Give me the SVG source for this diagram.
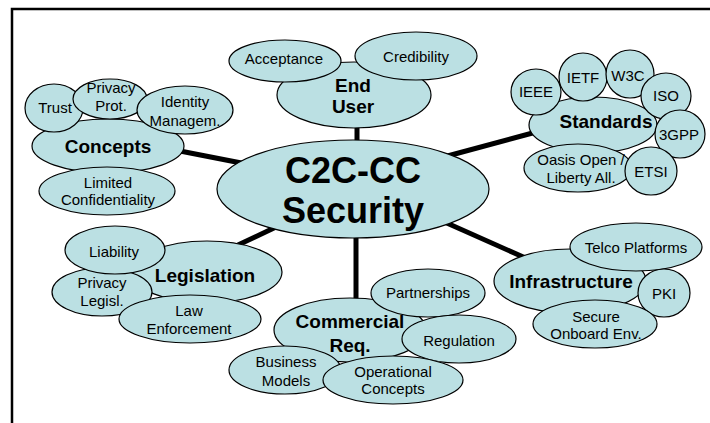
<svg xmlns="http://www.w3.org/2000/svg" width="710" height="423" viewBox="0 0 710 423">
<style>
ellipse{fill:#bbe0e3;stroke:#000;stroke-width:1.2}
text{font-family:"Liberation Sans",Arial,sans-serif;fill:#000;text-anchor:middle}
.s{font-size:15px}
.b{font-size:19px;font-weight:bold}
.c{font-size:36px;font-weight:bold}
.ln{stroke:#000;stroke-width:5;fill:none}
</style>
<rect width="710" height="423" fill="#fff"/>
<path d="M12 423V9H710" fill="none" stroke="#000" stroke-width="2.5"/>
<g id="connectors">
<line class="ln" x1="180" y1="151" x2="262" y2="167"/>
<line class="ln" x1="357" y1="120" x2="357" y2="150"/>
<line class="ln" x1="440" y1="158" x2="540" y2="131"/>
<line class="ln" x1="440" y1="220" x2="530" y2="260"/>
<line class="ln" x1="356" y1="230" x2="356" y2="305"/>
<line class="ln" x1="238" y1="245" x2="295" y2="218"/>
</g>
<g id="center">
<ellipse cx="353" cy="189" rx="136" ry="49"/>
<text class="c" x="353" y="183">C2C-CC</text>
<text class="c" x="353" y="223">Security</text>
</g>
<g id="concepts">
<ellipse cx="108" cy="146" rx="76" ry="27"/>
<text class="b" x="108" y="153">Concepts</text>
<ellipse cx="54" cy="108" rx="29" ry="24"/>
<text class="s" x="55" y="113">Trust</text>
<ellipse cx="110" cy="99" rx="37" ry="20"/>
<text class="s" x="111" y="93">Privacy</text>
<text class="s" x="111" y="111">Prot.</text>
<ellipse cx="185" cy="110" rx="48" ry="24"/>
<text class="s" x="185" y="107">Identity</text>
<text class="s" x="185" y="126">Managem.</text>
<ellipse cx="107" cy="191" rx="68" ry="24"/>
<text class="s" x="108" y="188">Limited</text>
<text class="s" x="108" y="205">Confidentiality</text>
</g>
<g id="enduser">
<ellipse cx="354" cy="95" rx="77" ry="33"/>
<text class="b" x="353" y="92">End</text>
<text class="b" x="353" y="113">User</text>
<ellipse cx="285" cy="61" rx="56" ry="21"/>
<text class="s" x="284" y="64">Acceptance</text>
<ellipse cx="416" cy="56" rx="61" ry="24"/>
<text class="s" x="416" y="62">Credibility</text>
</g>
<g id="standards">
<ellipse cx="593" cy="125" rx="64" ry="28"/>
<ellipse cx="536" cy="92" rx="25" ry="23"/>
<text class="s" x="536" y="97">IEEE</text>
<ellipse cx="583" cy="77" rx="24" ry="24"/>
<text class="s" x="583" y="83">IETF</text>
<ellipse cx="630" cy="74" rx="24" ry="24"/>
<text class="s" x="628" y="81">W3C</text>
<ellipse cx="666" cy="96" rx="25" ry="23"/>
<text class="s" x="666" y="101">ISO</text>
<text class="b" x="606" y="128">Standards</text>
<ellipse cx="680" cy="134" rx="25" ry="24"/>
<text class="s" x="679" y="140">3GPP</text>
<ellipse cx="578" cy="168" rx="54" ry="24"/>
<text class="s" x="581" y="165">Oasis Open /</text>
<text class="s" x="581" y="183">Liberty All.</text>
<ellipse cx="651" cy="171" rx="26" ry="24"/>
<text class="s" x="651" y="177">ETSI</text>
</g>
<g id="legislation">
<ellipse cx="207" cy="272" rx="75" ry="31"/>
<text class="b" x="205" y="282">Legislation</text>
<ellipse cx="102" cy="292" rx="50" ry="24"/>
<text class="s" x="102" y="288">Privacy</text>
<text class="s" x="102" y="306">Legisl.</text>
<ellipse cx="115" cy="250" rx="50" ry="24"/>
<text class="s" x="114" y="257">Liability</text>
<ellipse cx="190" cy="319" rx="71" ry="24"/>
<text class="s" x="189" y="316">Law</text>
<text class="s" x="189" y="334">Enforcement</text>
</g>
<g id="commercial">
<ellipse cx="350" cy="330" rx="76" ry="32"/>
<ellipse cx="428" cy="293" rx="57" ry="24"/>
<text class="s" x="428" y="298">Partnerships</text>
<text class="b" x="350" y="328">Commercial</text>
<text class="b" x="350" y="352">Req.</text>
<ellipse cx="459" cy="339" rx="57" ry="24"/>
<text class="s" x="459" y="346">Regulation</text>
<ellipse cx="285" cy="370" rx="56" ry="24"/>
<text class="s" x="286" y="367">Business</text>
<text class="s" x="286" y="386">Models</text>
<ellipse cx="393" cy="380" rx="70" ry="24"/>
<text class="s" x="393" y="377">Operational</text>
<text class="s" x="393" y="394">Concepts</text>
</g>
<g id="infrastructure">
<ellipse cx="570" cy="281" rx="76" ry="32"/>
<ellipse cx="636" cy="247" rx="66" ry="24"/>
<text class="s" x="636" y="253">Telco Platforms</text>
<text class="b" x="571" y="288">Infrastructure</text>
<ellipse cx="664" cy="293" rx="26" ry="24"/>
<text class="s" x="664" y="299">PKI</text>
<ellipse cx="595" cy="324" rx="62" ry="24"/>
<text class="s" x="596" y="322">Secure</text>
<text class="s" x="596" y="339">Onboard Env.</text>
</g>
</svg>
